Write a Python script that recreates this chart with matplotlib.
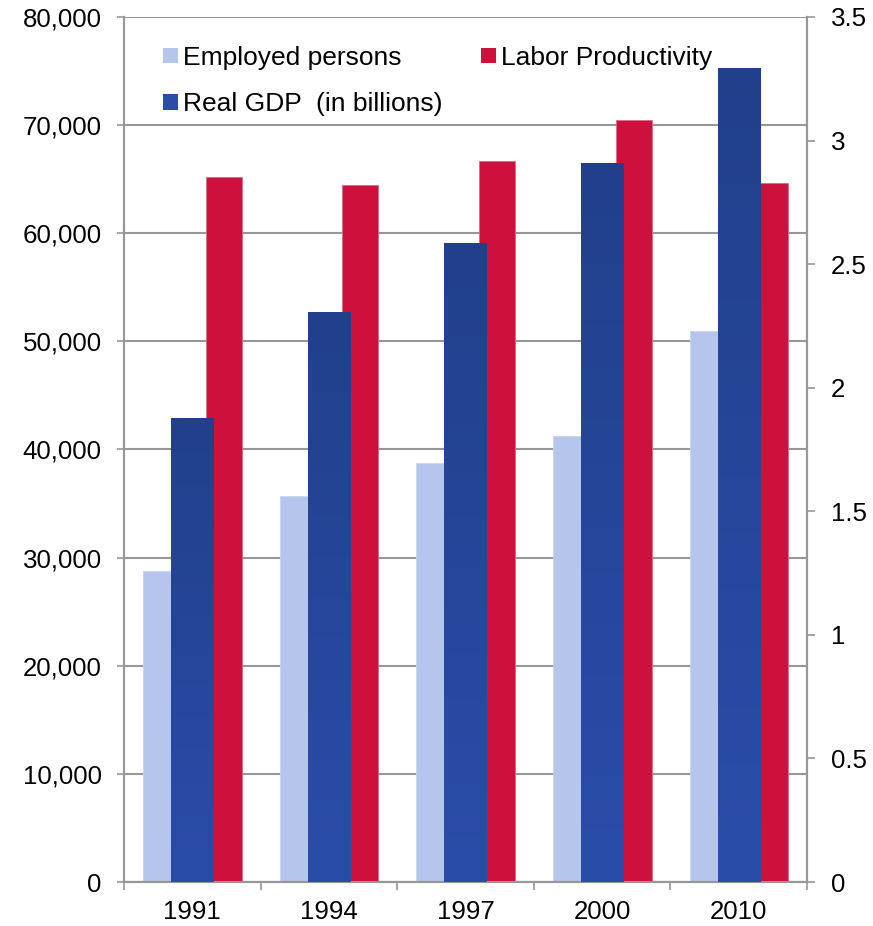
import numpy as np
import matplotlib
matplotlib.use("Agg")
import matplotlib.pyplot as plt
from matplotlib.patches import Patch
from matplotlib.ticker import FuncFormatter, MultipleLocator
from matplotlib.colors import LinearSegmentedColormap

plt.rcParams["font.family"] = ["Liberation Sans", "DejaVu Sans"]

# Data
years = ["1991", "1994", "1997", "2000", "2010"]
employed = [28730, 35700, 38730, 41240, 50930]
real_gdp = [42900, 52720, 59100, 66500, 75280]
labor_productivity = [2.853, 2.822, 2.916, 3.082, 2.827]

c_employed = "#B5C5EC"
c_labor = "#CE103D"
gdp_top, gdp_bottom = "#213F8B", "#2A4DAA"
grid_c = "#979797"
fs_tick = 18.6
fs_leg = 19.0

W, H = 873, 926
fig = plt.figure(figsize=(W / 100, H / 100), dpi=100)
rect = [124 / W, 1 - 882 / H, (807 - 124) / W, (882 - 17) / H]

ax = fig.add_axes(rect)
ax2 = ax.twinx()
ax3 = fig.add_axes(rect, sharex=ax, sharey=ax)

x = np.arange(len(years))
w_prim = 0.308
w_sec = 0.264

# Employed persons (left axis, back layer)
ax.bar(x - 0.205, employed, width=w_prim, color=c_employed,
       edgecolor="#C8D4F2", linewidth=0.6, zorder=2)

# Labor productivity (right axis, middle layer)
ax2.bar(x + 0.231, labor_productivity, width=w_sec, color=c_labor,
        edgecolor="#E06A86", linewidth=0.6, zorder=2)

# Real GDP (left axis, front layer) with a vertical gradient fill
cmap = LinearSegmentedColormap.from_list("gdp", [gdp_bottom, gdp_top])
grad = np.linspace(0, 1, 256).reshape(-1, 1)
bars = ax3.bar(x, real_gdp, width=w_prim, color="none", linewidth=0, zorder=2)
for b in bars:
    bx, by = b.get_x(), b.get_y()
    bw, bh = b.get_width(), b.get_height()
    im = ax3.imshow(grad, cmap=cmap, origin="lower", aspect="auto",
                    extent=[bx, bx + bw, by, by + bh], zorder=2)
    im.set_clip_path(b)

# Axis limits
ax.set_xlim(-0.5, len(years) - 0.5)
ax.set_ylim(0, 80000)
ax2.set_ylim(0, 3.5)

# Left axis
ax.yaxis.set_major_locator(MultipleLocator(10000))
ax.yaxis.set_major_formatter(FuncFormatter(lambda v, p: f"{int(v):,}"))
ax.grid(axis="y", color=grid_c, linewidth=1.5, zorder=0)
ax.set_axisbelow(True)
ax.tick_params(axis="y", direction="out", length=5, width=1.2, color=grid_c,
               labelsize=fs_tick, pad=11)

# Right axis
ax2.yaxis.set_major_locator(MultipleLocator(0.5))
ax2.yaxis.set_major_formatter(FuncFormatter(lambda v, p: f"{v:g}"))
ax2.tick_params(axis="y", direction="out", length=6, width=1.2, color=grid_c,
                labelsize=fs_tick, pad=11)

# Category axis: ticks between groups, labels centred
ax.set_xticks(x)
ax.set_xticklabels(years)
ax.set_xticks(np.arange(len(years) + 1) - 0.5, minor=True)
ax.tick_params(axis="x", which="major", length=0, labelsize=fs_tick, pad=13)
ax.tick_params(axis="x", which="minor", direction="out", length=6, width=1.2,
               color=grid_c)

for a in (ax, ax2):
    for s in a.spines.values():
        s.set_color(grid_c)
        s.set_linewidth(1.5)
    a.spines["top"].set_visible(False)

ax.set_zorder(1)
ax.patch.set_visible(True)
ax.patch.set_facecolor("white")
ax2.set_zorder(2)
ax2.patch.set_visible(False)
ax3.set_zorder(3)
ax3.patch.set_visible(False)
ax3.axis("off")

# Legend
handles = [Patch(facecolor=c_employed, edgecolor="none"),
           Patch(facecolor=gdp_bottom, edgecolor="none"),
           Patch(facecolor=c_labor, edgecolor="none")]
labels = ["Employed persons", "Real GDP  (in billions)", "Labor Productivity"]
fig.legend(handles, labels, ncol=2, loc="upper left",
           bbox_to_anchor=(163 / W, 1 - 46 / H), frameon=False,
           fontsize=fs_leg, handlelength=0.57, handleheight=0.53,
           handletextpad=0.19, columnspacing=1.45, labelspacing=0.85,
           borderpad=0, borderaxespad=0)

fig.savefig("out.png", dpi=100, facecolor="white")
